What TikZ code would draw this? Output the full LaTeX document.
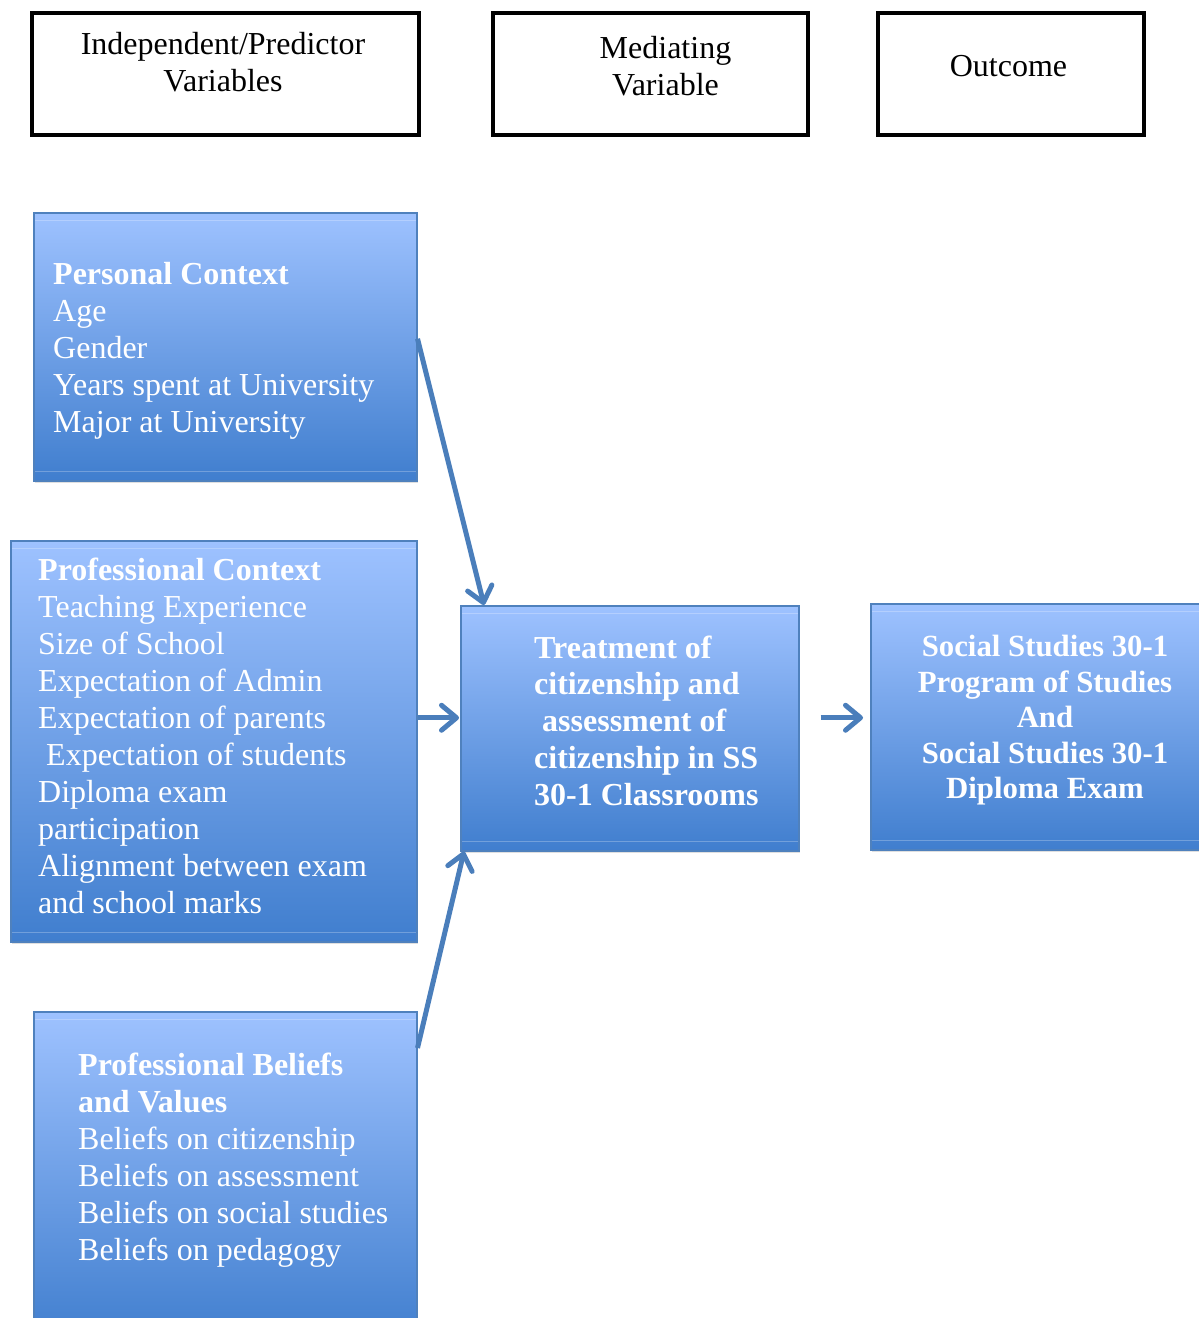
\documentclass[tikz,border=0pt]{standalone}
\usepackage{fontspec}
\setmainfont{Liberation Serif}
\usetikzlibrary{arrows.meta,shadows}
\definecolor{boxtop}{RGB}{158,194,255}
\definecolor{boxbot}{RGB}{64,126,206}
\definecolor{boxedge}{RGB}{79,129,189}
\definecolor{arr}{RGB}{74,126,187}
\begin{document}
\begin{tikzpicture}[x=1pt,y=-1pt,
 hdr/.style={draw=black,line width=4pt,inner sep=0pt,anchor=north west},
 bluebox/.style={draw=boxedge,line width=1.5pt,top color=boxtop,bottom color=boxbot,inner sep=0pt,anchor=north west,
   drop shadow={shadow xshift=1.5pt,shadow yshift=-2.5pt,opacity=0.25}},
 hilite/.style={draw=white,opacity=0.25,line width=1pt},
 txt/.style={text=white,font=\fontsize{32}{37}\selectfont,align=left,inner sep=0pt,anchor=west},
 htxt/.style={text=black,font=\fontsize{32}{37}\selectfont,align=center,inner sep=0pt},
 conn/.style={draw=arr,line width=5pt,-{Straight Barb[length=15pt,width=25pt,line width=5pt,round]}}
]
\useasboundingbox (0,0) rectangle (1199,1318);
\fill[white] (0,0) rectangle (1199,1318);

% header boxes
\node[hdr,minimum width=387pt,minimum height=122pt] (h1) at (30,11) {};
\node[hdr,minimum width=315pt,minimum height=122pt] (h2) at (491,11) {};
\node[hdr,minimum width=266pt,minimum height=122pt] (h3) at (876,11) {};
\node[htxt] (h1t) at (223,62.5) {Independent/Predictor\\Variables};
\node[htxt] (h2t) at (665.5,66.5) {Mediating\\Variable};
\node[htxt] (h3t) at (1008.5,66) {Outcome};

% blue boxes
\node[bluebox,minimum width=383pt,minimum height=268pt] (personal) at (33,212) {};
\node[bluebox,minimum width=406pt,minimum height=401pt] (prof) at (10,540) {};
\node[bluebox,minimum width=383pt,minimum height=330pt] (beliefs) at (33,1011) {};
\node[bluebox,minimum width=338pt,minimum height=245pt] (treat) at (460,605) {};
\node[bluebox,minimum width=345pt,minimum height=246pt] (social) at (870,603) {};

\foreach \b in {personal,prof,beliefs,treat,social}{
  \draw[hilite] ([yshift=-8pt,xshift=2pt]\b.north west) -- ([yshift=-8pt,xshift=-2pt]\b.north east);
  \draw[hilite] ([yshift=10pt,xshift=2pt]\b.south west) -- ([yshift=10pt,xshift=-2pt]\b.south east);
}

% texts
\node[txt] (personalt) at (53,350.5) {\textbf{Personal Context}\\Age\\Gender\\Years spent at University\\Major at University};
\node[txt] (proft) at (38,735.5) {\textbf{Professional Context}\\Teaching Experience\\Size of School\\Expectation of Admin\\Expectation of parents\\\hspace*{8pt}Expectation of students\\Diploma exam\\participation\\Alignment between exam\\and school marks};
\node[txt] (beliefst) at (78,1160.5) {\textbf{Professional Beliefs}\\\textbf{and Values}\\Beliefs on citizenship\\Beliefs on assessment\\Beliefs on social studies\\Beliefs on pedagogy};
\node[txt,font=\fontsize{32}{36.8}\selectfont\bfseries] (treatt) at (534,720.5) {Treatment of\\citizenship and\\\hspace*{8pt}assessment of\\citizenship in SS\\30-1 Classrooms};
\node[txt,anchor=center,align=center,font=\fontsize{30.8}{35.5}\selectfont\bfseries] (socialt) at (1045,720.5) {Social Studies 30-1\\Program of Studies\\And\\Social Studies 30-1\\Diploma Exam};

% connectors
\draw[conn] ([yshift=8pt]personal.east) -- ([xshift=24pt]treat.north west);
\coordinate (a2s) at ([yshift=23.5pt]prof.east);
\draw[conn,shorten >=1pt] (a2s) -- (a2s -| treat.west);
\draw[conn] ([yshift=-37pt]beliefs.north east) -- ([xshift=4pt]treat.south west);
\coordinate (a4s) at ([xshift=21pt,yshift=10.5pt]treat.east);
\draw[conn,shorten >=7pt] (a4s) -- (a4s -| social.west);
\end{tikzpicture}
\end{document}
